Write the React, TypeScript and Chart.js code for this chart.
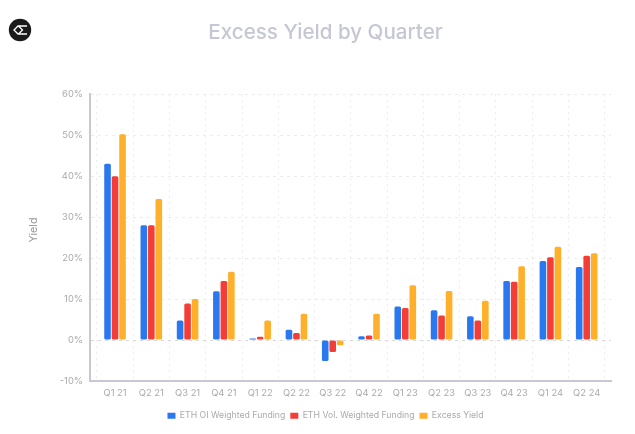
import React, { useEffect, useRef } from "react";
import { Chart, registerables } from "chart.js";

Chart.register(...registerables);

const categories = ["Q1 21","Q2 21","Q3 21","Q4 21","Q1 22","Q2 22","Q3 22","Q4 22","Q1 23","Q2 23","Q3 23","Q4 23","Q1 24","Q2 24"];
const oiWeighted = [43, 28, 4.8, 11.9, 0.4, 2.5, -5.1, 0.9, 8.2, 7.3, 5.8, 14.4, 19.3, 17.8];
const volWeighted = [40, 28, 8.9, 14.4, 0.8, 1.7, -2.9, 1.1, 7.8, 6, 4.8, 14.2, 20.2, 20.6];
const excessYield = [50.2, 34.4, 10, 16.7, 4.8, 6.4, -1.3, 6.4, 13.4, 12, 9.6, 18, 22.8, 21.2];

const FONT = "Inter";
const toPoints = (vals: number[]) => vals.map((y, x) => ({ x, y }));

export default function App() {
  const ref = useRef<HTMLCanvasElement>(null);
  useEffect(() => {
    const bar = (label: string, data: number[], color: string) => ({
      label,
      data: toPoints(data),
      backgroundColor: color,
      borderRadius: 1.5,
      borderSkipped: false,
      categoryPercentage: 0.62,
      barPercentage: 0.88,
    });
    const chart = new Chart(ref.current!, {
      type: "bar",
      data: {
        datasets: [
          bar("ETH OI Weighted Funding", oiWeighted, "#2a78f0"),
          bar("ETH Vol. Weighted Funding", volWeighted, "#f53d38"),
          bar("Excess Yield", excessYield, "#ffb02a"),
        ],
      },
      options: {
        animation: false,
        responsive: false,
        layout: { padding: { left: 40, right: 24, top: 0, bottom: 4 } },
        plugins: {
          title: {
            display: true,
            text: "Excess Yield by Quarter",
            color: "#c6c6d4",
            font: { family: FONT, size: 20.6, weight: "500" },
            padding: { top: 20, bottom: 49.5 },
          },
          legend: {
            position: "bottom",
            labels: {
              boxWidth: 8,
              boxHeight: 6,
              padding: 5,
              color: "#aaaaaa",
              font: { family: FONT, size: 8.7 },
            },
          },
          tooltip: { enabled: false },
        },
        scales: {
          x: {
            type: "linear",
            min: -0.69,
            max: 13.67,
            offset: false,
            grid: { color: "#ececec", lineWidth: 1, drawTicks: false },
            border: { color: "#c8c8d2", width: 2, dash: [2, 4] },
            afterBuildTicks: (s: any) => {
              s.ticks = categories.map((_, i) => ({ value: i }));
            },
            ticks: {
              autoSkip: false,
              maxRotation: 0,
              padding: 7,
              color: "#aaaaaa",
              font: { family: FONT, size: 9.4 },
              callback: (v: any) => categories[Number(v)] ?? "",
            },
          },
          y: {
            min: -10,
            max: 60,
            grid: {
              color: (c: any) => (c.tick?.value === 0 ? "#d8d8d8" : "#ececec"),
              lineWidth: 1,
              drawTicks: false,
            },
            border: { color: "#c8c8d2", width: 2, dash: [3, 4] },
            afterFit: (s: any) => {
              s.width = 50;
            },
            title: {
              display: true,
              text: "     Yield",
              color: "#9a9a9a",
              font: { family: FONT, size: 10.8 },
              padding: { top: -13, bottom: 12 },
            },
            ticks: {
              stepSize: 10,
              padding: 7,
              color: "#aaaaaa",
              font: { family: FONT, size: 9.4 },
              callback: (v: any) => `${v}%`,
            },
          },
        },
      },
    } as any);
    return () => chart.destroy();
  }, []);
  return (
    <div style={{ position: "absolute", left: 0, top: 0, width: 635, height: 434, background: "#fff" }}>
      <canvas ref={ref} width={635} height={434} style={{ display: "block" }} />
      <svg width={24} height={24} viewBox="0 0 24 24" style={{ position: "absolute", left: 8, top: 18 }}>
        <circle cx={12} cy={12} r={11.2} fill="#1a1a1a" />
        <path d="M19 8H10L6 12L10 16H19M10.5 8L14.5 12L10.5 16" fill="none" stroke="#fff" strokeWidth={1.3} />
      </svg>
    </div>
  );
}
